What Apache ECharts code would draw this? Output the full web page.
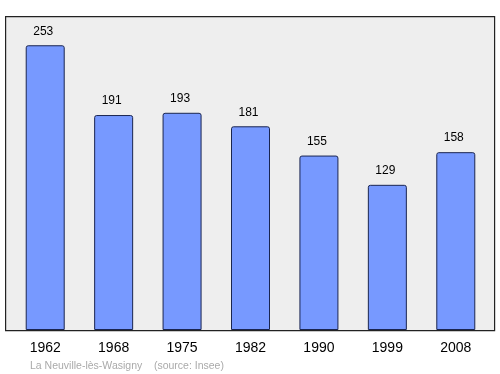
<!DOCTYPE html>
<html><head><meta charset="utf-8">
<script src="https://cdn.jsdelivr.net/npm/echarts@6/dist/echarts.min.js"></script>
<style>html,body{margin:0;padding:0;background:#fff}#c{width:500px;height:374px}</style>
</head><body><div id="c"></div>
<script>
const categories = ['1962','1968','1975','1982','1990','1999','2008'];
const population = [253,191,193,181,155,129,158];
const footerText = 'La Neuville-lès-Wasigny    (source: Insee)';

const chart = echarts.init(document.getElementById('c'), null, {renderer:'canvas'});
chart.setOption({
  animation:false,
  graphic:[
    {type:'rect', left:5, top:16, shape:{x:0,y:0,width:489,height:314}, style:{fill:'#eeeeee', stroke:'#222', lineWidth:1.2}, z:-10},
    {type:'text', left:30, top:361, style:{text:footerText, fill:'#aaaaaa', font:'10.5px "Liberation Sans", Arial, sans-serif'}}
  ],
  grid:{left:11, right:10, top:16, bottom:44},
  xAxis:{type:'category', data:categories, axisLine:{show:false}, axisTick:{show:false},
    axisLabel:{color:'#000', fontSize:14, fontFamily:'"Liberation Sans", Arial, sans-serif', margin:11}},
  yAxis:{type:'value', min:0, max:279, show:false, splitLine:{show:false}},
  series:[{type:'bar', data:population, barWidth:39,
    itemStyle:{color:'#7799ff', borderColor:'#1a2550', borderWidth:1, borderRadius:[2,2,0,0]},
    label:{show:true, position:'top', distance:8, offset:[-2,0], color:'#000', fontSize:12, fontFamily:'"Liberation Sans", Arial, sans-serif'}}]
});
</script></body></html>
